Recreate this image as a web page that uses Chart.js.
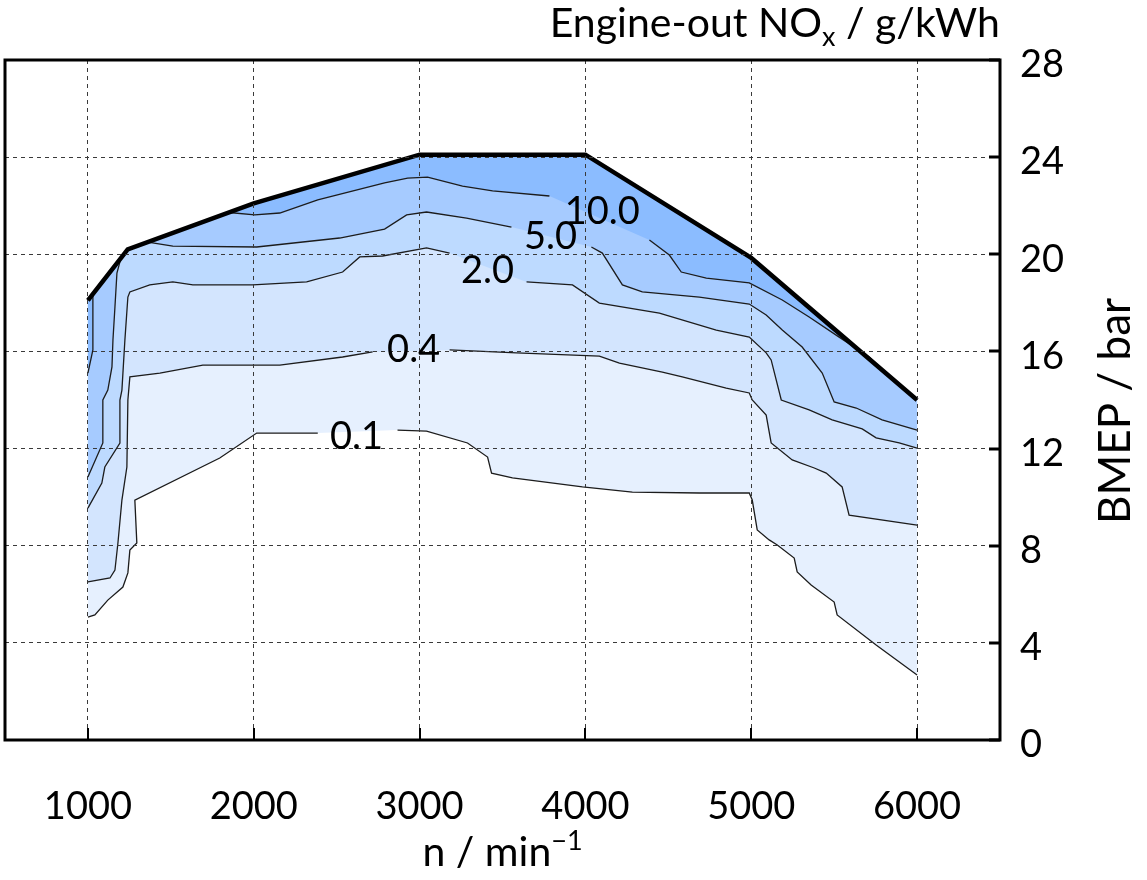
<!DOCTYPE html>
<html>
<head>
<meta charset="utf-8">
<title>Engine-out NOx map</title>
<script src="https://cdn.jsdelivr.net/npm/chart.js@4/dist/chart.umd.min.js"></script>
<style>
  html, body { margin: 0; padding: 0; background: #fff; }
  #map { display: block; }
</style>
</head>
<body>
<canvas id="map" width="1147" height="880"></canvas>
<script>
// axis ticks: engine speed (1/min) and BMEP (bar)
const speedTicks = [1000, 2000, 3000, 4000, 5000, 6000];
const bmepTicks = [0, 4, 8, 12, 16, 20, 24, 28];

// full-load line
const fullLoadRpm  = [1000, 1240, 2000, 3000, 4000, 5000, 6000];
const fullLoadBmep = [18.1, 20.2, 22.1, 24.1, 24.1, 19.85, 14.0];

// iso-NOx lines (g/kWh)
const nox01Rpm  = [1000, 1042, 1120, 1211, 1241, 1253, 1295, 1283, 1795, 2018, 2386, 2867, 3042, 3289, 3410, 3434, 3560, 3982, 4283, 4687, 4988, 5006, 5036, 5108, 5157, 5259, 5277, 5361, 5500, 5518, 5753, 6000];
const nox01Bmep = [5.06, 5.15, 5.76, 6.30, 6.88, 7.82, 8.11, 9.88, 11.61, 12.64, 12.64, 12.76, 12.72, 12.23, 11.65, 10.99, 10.79, 10.42, 10.21, 10.17, 10.17, 9.88, 8.65, 8.24, 8.03, 7.49, 6.92, 6.38, 5.68, 5.15, 3.91, 2.68];

const nox04Rpm  = [1000, 1133, 1163, 1181, 1205, 1235, 1241, 1253, 1434, 1693, 2157, 2536, 2717, 3181, 3584, 4084, 4205, 4464, 4584, 4849, 4988, 5006, 5090, 5120, 5247, 5380, 5452, 5548, 5590, 6000];
const nox04Bmep = [6.51, 6.67, 7.00, 8.11, 9.88, 11.24, 14.00, 14.95, 15.11, 15.44, 15.44, 15.77, 15.98, 16.06, 15.94, 15.81, 15.52, 15.15, 14.95, 14.49, 14.29, 14.00, 13.38, 12.23, 11.53, 11.20, 10.99, 10.42, 9.26, 8.85];

const nox2Rpm  = [1000, 1084, 1102, 1193, 1193, 1205, 1223, 1241, 1253, 1373, 1512, 1633, 1994, 2319, 2536, 2639, 2777, 3042, 3181, 3645, 3922, 4084, 4446, 4789, 4988, 5090, 5120, 5181, 5349, 5488, 5669, 5753, 5892, 6000];
const nox2Bmep = [9.55, 10.58, 11.24, 12.23, 14.00, 14.41, 16.47, 18.24, 18.45, 18.74, 18.86, 18.74, 18.74, 18.86, 19.27, 19.89, 19.93, 20.26, 20.05, 18.86, 18.74, 17.99, 17.58, 16.88, 16.59, 15.94, 15.65, 14.00, 13.59, 13.18, 12.81, 12.44, 12.23, 12.02];

const nox5LeftRpm  = [1000, 1090, 1090, 1120, 1145, 1151, 1163, 1175, 1199];
const nox5LeftBmep = [10.83, 12.23, 14.00, 14.41, 15.36, 16.47, 17.83, 19.23, 19.84];
const nox5Rpm  = [1361, 1512, 2018, 2518, 2789, 2922, 3042, 3283, 3554, 4036, 4102, 4223, 4343, 4687, 4988, 5090, 5187, 5307, 5428, 5500, 5633, 5789, 6000];
const nox5Bmep = [20.50, 20.34, 20.30, 20.67, 21.04, 21.62, 21.74, 21.49, 21.12, 20.30, 20.05, 18.74, 18.45, 18.24, 17.95, 17.50, 16.88, 16.18, 15.11, 13.92, 13.67, 13.18, 12.76];

const nox10LeftRpm  = [1030, 1030, 1030, 1000];
const nox10LeftBmep = [18.36, 18.04, 16.06, 15.11];
const nox10Rpm  = [1850, 2006, 2157, 2386, 2789, 2928, 3048, 3259, 3440, 3783, 4386, 4506, 4578, 4729, 4988, 5187, 5349, 5530, 5711, 5831];
const nox10Bmep = [21.72, 21.62, 21.70, 22.24, 22.94, 23.14, 23.18, 22.81, 22.61, 22.40, 20.59, 19.97, 19.27, 19.02, 18.82, 18.12, 17.42, 16.59, 15.77, 15.00];

// in-line contour labels
const levelNames = ['0.1', '0.4', '2.0', '5.0', '10.0'];
const labelRpm   = [2620, 2964, 3410, 3789, 4102];
const labelBmep  = [12.48, 16.06, 19.31, 20.71, 21.74];

const levelColors = ['#e6f0fe', '#d3e5fe', '#bddaff', '#a6cbff', '#8bbcff'];
const FONT = 'Lato, "Open Sans", sans-serif';

const xy = (xs, ys) => xs.map((x, i) => ({x, y: ys[i]}));

// closed area between an iso line and the full-load line
function regionAbove(xs, ys) {
  const x0 = xs[0], x1 = xs[xs.length - 1];
  const lo = Math.min(x0, x1), hi = Math.max(x0, x1);
  const edge = xy(fullLoadRpm, fullLoadBmep).filter(p => p.x >= lo && p.x <= hi);
  if (x1 > x0) edge.reverse();
  return xy(xs, ys).concat(edge);
}

// level index, line, and the segment that is left open for its label (-1: none)
const pieces = [
  [0, nox01Rpm, nox01Bmep, 10],
  [1, nox04Rpm, nox04Bmep, 12],
  [2, nox2Rpm, nox2Bmep, 18],
  [3, nox5LeftRpm, nox5LeftBmep, -1],
  [3, nox5Rpm, nox5Bmep, 8],
  [4, nox10LeftRpm, nox10LeftBmep, -1],
  [4, nox10Rpm, nox10Bmep, 9],
];

const datasets = [{
  data: xy(fullLoadRpm, fullLoadBmep),
  borderColor: '#000',
  borderWidth: 4.5,
  fill: false,
  order: 0,
}];

pieces.forEach(([lvl, xs, ys, gap]) => {
  datasets.push({
    data: regionAbove(xs, ys),
    backgroundColor: levelColors[lvl],
    borderWidth: 0,
    borderColor: 'rgba(0,0,0,0)',
    fill: 'shape',
    order: 2 + (4 - lvl),
  });
  datasets.push({
    data: xy(xs, ys),
    borderColor: '#1c1c1c',
    borderWidth: 1.3,
    fill: false,
    order: 1,
    segment: {
      borderColor: c => c.p0DataIndex === gap ? 'rgba(0,0,0,0)' : undefined,
    },
  });
});

// draws text pieces side by side; each piece is [text, font, baseline shift]
function drawRun(ctx, parts, left, baseline) {
  parts.forEach(([t, f, dy]) => {
    ctx.font = f;
    ctx.fillText(t, left, baseline + dy);
    left += ctx.measureText(t).width;
  });
}
function runWidth(ctx, parts) {
  return parts.reduce((w, [t, f]) => { ctx.font = f; return w + ctx.measureText(t).width; }, 0);
}

const decorations = {
  id: 'decorations',
  afterDraw(chart) {
    const {ctx, chartArea: a, scales: {x, y}} = chart;
    ctx.save();
    ctx.strokeStyle = '#000';
    ctx.fillStyle = '#000';

    // tick marks pointing into the plot
    ctx.lineWidth = 2;
    speedTicks.forEach(v => {
      const px = Math.round(x.getPixelForValue(v));
      ctx.beginPath(); ctx.moveTo(px, a.bottom); ctx.lineTo(px, a.bottom - 12); ctx.stroke();
    });
    ctx.lineWidth = 3;
    bmepTicks.forEach(v => {
      const py = Math.round(y.getPixelForValue(v));
      ctx.beginPath(); ctx.moveTo(a.right, py); ctx.lineTo(a.right - 11, py); ctx.stroke();
    });

    // frame
    ctx.lineWidth = 3;
    ctx.strokeRect(a.left, a.top, a.right - a.left, a.bottom - a.top);

    // contour labels
    ctx.font = '38px ' + FONT;
    ctx.textAlign = 'center';
    ctx.textBaseline = 'middle';
    levelNames.forEach((t, i) => {
      ctx.fillText(t, x.getPixelForValue(labelRpm[i]), y.getPixelForValue(labelBmep[i]));
    });

    ctx.textBaseline = 'alphabetic';
    ctx.textAlign = 'left';
    const big = '41px ' + FONT, small = '27px ' + FONT;

    // map title, top right
    const title = [['Engine-out NO', big, 0], ['x', small, 9], [' / g/kWh', big, 0]];
    drawRun(ctx, title, a.right - runWidth(ctx, title), 37);

    // x axis title
    const xt = [['n / min', big, 0], ['\u22121', small, -16]];
    drawRun(ctx, xt, (a.left + a.right) / 2 - runWidth(ctx, xt) / 2, 866);

    // y axis title, reading upwards
    ctx.translate(1116, 411);
    ctx.rotate(-Math.PI / 2);
    ctx.font = '44px ' + FONT;
    ctx.textAlign = 'center';
    ctx.textBaseline = 'middle';
    ctx.fillText('BMEP / bar', 0, 0);
    ctx.restore();
  }
};

new Chart(document.getElementById('map'), {
  type: 'line',
  data: { datasets },
  options: {
    responsive: false,
    animation: false,
    events: [],
    layout: { padding: { left: 5, top: 60, right: 0, bottom: 0 } },
    elements: { point: { radius: 0 }, line: { tension: 0, borderJoinStyle: 'miter' } },
    plugins: { legend: { display: false }, tooltip: { enabled: false } },
    scales: {
      x: {
        type: 'linear',
        min: 500,
        max: 6500,
        afterBuildTicks: s => { s.ticks = speedTicks.map(v => ({value: v})); },
        afterFit: s => { s.height = 140; s.paddingLeft = 0; s.paddingRight = 0; },
        grid: { z: 1, color: '#3a3a3a', lineWidth: 1, drawTicks: false },
        border: { display: false, dash: [4, 4] },
        ticks: {
          color: '#000', font: { family: FONT, size: 38 }, padding: 44, maxRotation: 0,
          callback: v => String(v),
        },
      },
      y: {
        position: 'right',
        min: 0,
        max: 28,
        afterBuildTicks: s => { s.ticks = bmepTicks.map(v => ({value: v})); },
        afterFit: s => { s.width = 147; s.paddingTop = 0; s.paddingBottom = 0; },
        grid: { z: 1, color: '#3a3a3a', lineWidth: 1, drawTicks: false },
        border: { display: false, dash: [4, 4] },
        ticks: {
          color: '#000', font: { family: FONT, size: 38 }, padding: 20, labelOffset: 5,
          callback: v => String(v),
        },
      },
    },
  },
  plugins: [decorations],
});
</script>
</body>
</html>
